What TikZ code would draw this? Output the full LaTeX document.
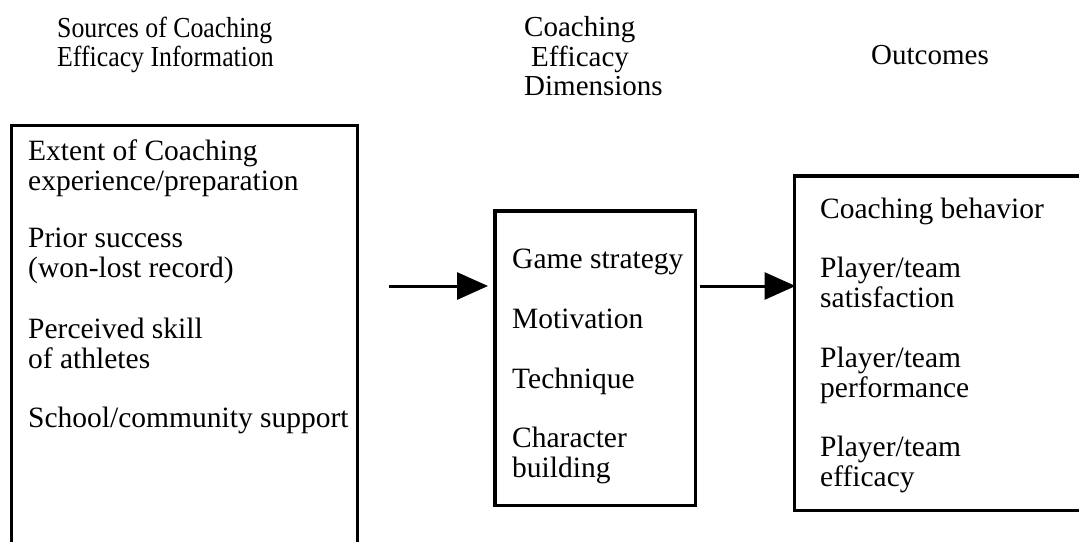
\documentclass[tikz,border=0pt]{standalone}
\usepackage{fontspec}
\setmainfont{Liberation Serif}
\newfontfamily\condfont[FakeStretch=0.89]{Liberation Serif}
\usetikzlibrary{arrows.meta}
\begin{document}
\begin{tikzpicture}[x=1pt,y=-1pt,
  txt/.style={anchor=base west, align=left, inner sep=0pt, font=\fontsize{29.5}{29.7}\selectfont},
  hdr/.style={anchor=base west, align=left, inner sep=0pt, font=\fontsize{29}{29.5}\selectfont},
  box/.style={draw, line width=3.4pt, inner sep=0pt, outer sep=0pt, anchor=north west},
  arr/.style={line width=3pt, -{Triangle[length=31pt,width=27pt]}}]
\useasboundingbox (0,0) rectangle (1079,541);
\clip (0,0) rectangle (1079,541);

% headers
\node[hdr] (h1) at (57,66.7) {\condfont Sources of Coaching\\\condfont Efficacy Information};
\node[hdr] (h2) at (524,95.7) {Coaching\\\hspace{7pt}Efficacy\\Dimensions};
\node[hdr] (h3) at (871,64) {Outcomes};

% boxes
\node[box, minimum width=345.9pt, minimum height=434.7pt] (src) at (11.7,125.3) {};
\node[box, minimum width=200.5pt, minimum height=294.5pt] (mid) at (495,211) {};
\node[box, minimum width=295.5pt, minimum height=334.3pt] (out) at (794.5,176) {};

% left items
\node[txt] (s1) at (28,190) {Extent of Coaching\\experience/preparation};
\node[txt] (s2) at (28,277) {Prior success\\(won-lost record)};
\node[txt] (s3) at (28,368) {Perceived skill\\of athletes};
\node[txt] (s4) at (28,427) {School/community support};

% middle items
\node[txt] (m1) at (512,268) {Game strategy};
\node[txt] (m2) at (512,328) {Motivation};
\node[txt] (m3) at (512,388) {Technique};
\node[txt] (m4) at (512,477) {Character\\building};

% right items
\node[txt] (o1) at (820,218) {Coaching behavior};
\node[txt] (o2) at (820,307) {Player/team\\satisfaction};
\node[txt] (o3) at (820,397) {Player/team\\performance};
\node[txt] (o4) at (820,486) {Player/team\\efficacy};

% arrows
\coordinate (a1) at (389,286);
\draw[arr] (a1) -- ([xshift=-7pt]mid.west |- a1);
\draw[arr] ([xshift=4.5pt]mid.east |- a1) -- ([xshift=1pt]out.west |- a1);
\end{tikzpicture}
\end{document}
